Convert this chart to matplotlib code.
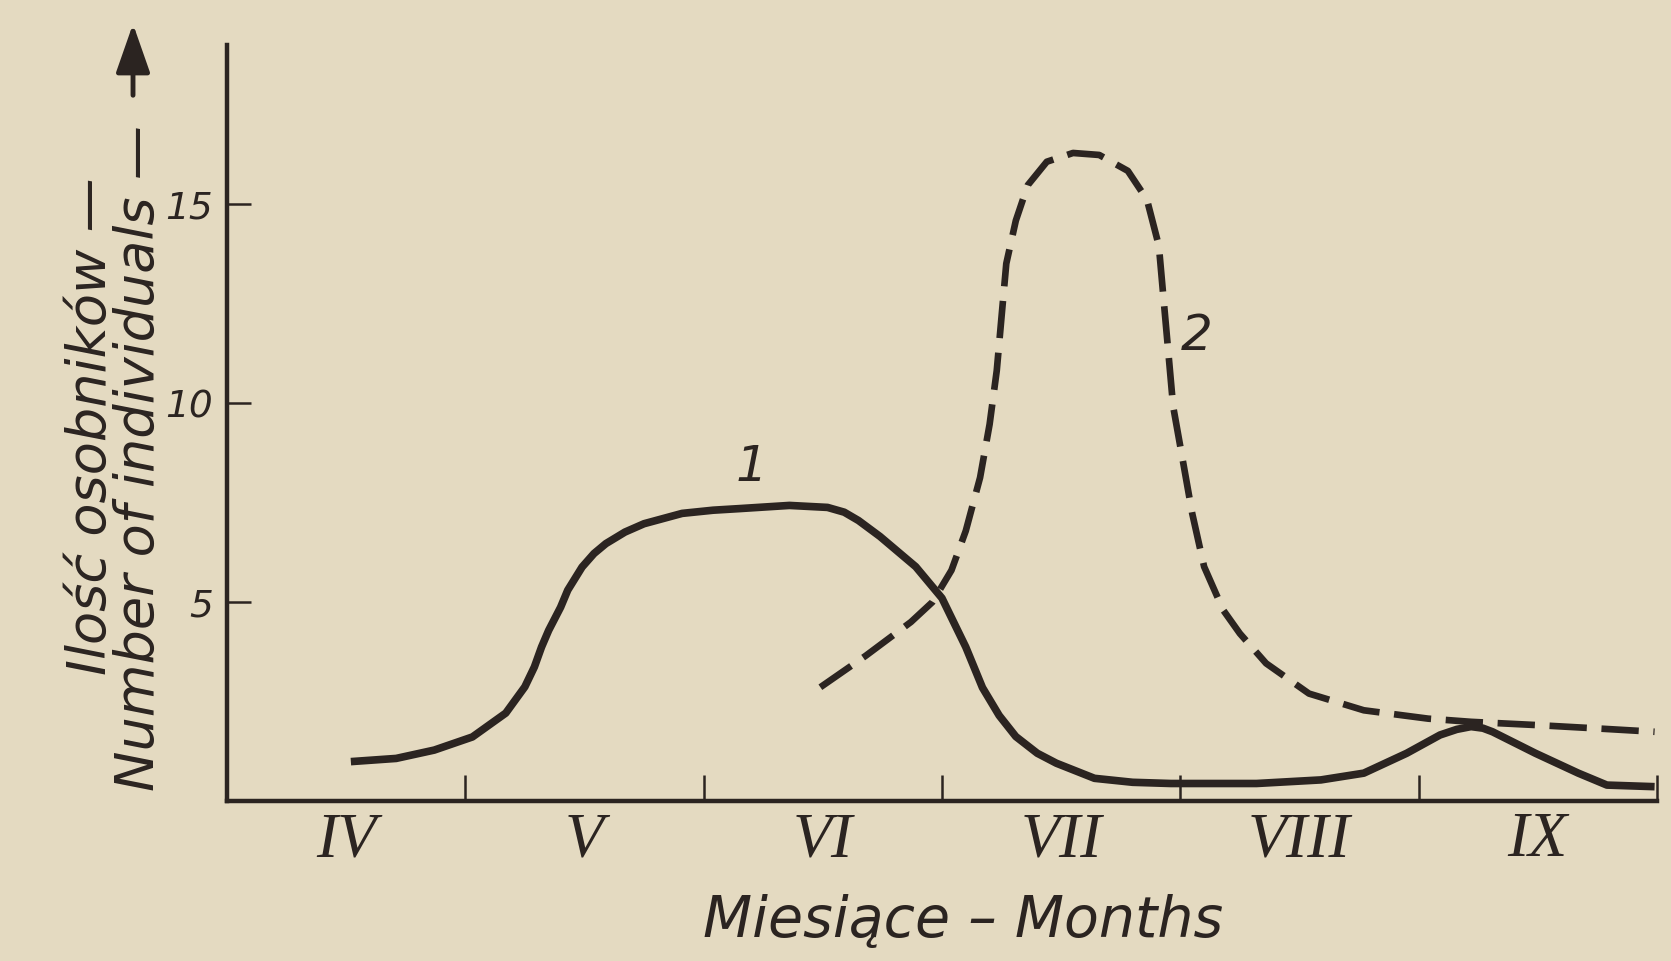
import matplotlib
matplotlib.use('Agg')
import matplotlib.pyplot as plt

# months, one per interval on the x axis
months = ['IV', 'V', 'VI', 'VII', 'VIII', 'IX']
month_pos = [0.5, 1.5, 2.5, 3.5, 4.5, 5.5]
month_edges = [0, 1, 2, 3, 4, 5, 6]
yticks = [5, 10, 15]

# curve 1 (solid)
x1 = [0.52, 0.71, 0.87, 1.03, 1.17, 1.21, 1.25, 1.29, 1.32, 1.35, 1.40, 1.43,
      1.49, 1.54, 1.59, 1.67, 1.75, 1.83, 1.91, 2.04, 2.15, 2.36, 2.52, 2.59,
      2.65, 2.74, 2.89, 3.00, 3.10, 3.17, 3.24, 3.31, 3.40, 3.48, 3.64, 3.80,
      3.96, 4.32, 4.59, 4.77, 4.95, 5.09, 5.16, 5.22, 5.27, 5.31, 5.49, 5.67,
      5.79, 5.99]
y1 = [0.99, 1.07, 1.28, 1.61, 2.21, 2.54, 2.87, 3.37, 3.87, 4.29, 4.87, 5.30,
      5.88, 6.22, 6.47, 6.76, 6.97, 7.10, 7.23, 7.31, 7.35, 7.43, 7.38, 7.26,
      7.05, 6.65, 5.89, 5.10, 3.87, 2.85, 2.15, 1.62, 1.20, 0.95, 0.57, 0.47,
      0.44, 0.44, 0.53, 0.70, 1.20, 1.66, 1.80, 1.87, 1.83, 1.74, 1.20, 0.70,
      0.40, 0.36]

# curve 2 (dashed)
x2 = [2.49, 2.68, 2.87, 2.96, 3.04, 3.10, 3.16, 3.20, 3.23, 3.25, 3.27, 3.31,
      3.36, 3.44, 3.55, 3.66, 3.78, 3.86, 3.91, 3.93, 3.95, 3.97, 4.01, 4.05,
      4.10, 4.18, 4.25, 4.36, 4.54, 4.77, 5.04, 5.22, 5.49, 5.76, 5.99]
y2 = [2.86, 3.65, 4.50, 5.00, 5.80, 6.79, 8.13, 9.47, 10.82, 12.17, 13.51, 14.59,
      15.48, 16.07, 16.29, 16.24, 15.84, 15.12, 13.96, 12.61, 11.27, 9.92, 8.58, 7.23,
      5.89, 4.80, 4.21, 3.46, 2.70, 2.28, 2.07, 1.99, 1.91, 1.82, 1.74]

INK = '#2b2421'
PAPER = '#e4dac1'


def main():
    fig = plt.figure(figsize=(16.71, 9.61), dpi=100, facecolor=PAPER)
    ax = fig.add_axes([0.1358, 0.1665, 0.8558, 0.7865])
    ax.set_facecolor(PAPER)

    ax.plot(x1, y1, color=INK, lw=5.5, solid_capstyle='butt', solid_joinstyle='round')
    ax.plot(x2, y2, color=INK, lw=4.8, linestyle=(0, (5.6, 2.2)), dash_capstyle='butt')

    ax.text(2.2, 8.4, '1', fontsize=36, style='italic', color=INK, ha='center', va='center')
    ax.text(4.07, 11.7, '2', fontsize=36, style='italic', color=INK, ha='center', va='center')

    ax.set_xlim(0, 6)
    ax.set_ylim(0, 19)

    for side in ['top', 'right']:
        ax.spines[side].set_visible(False)
    for side in ['left', 'bottom']:
        ax.spines[side].set_linewidth(3.2)
        ax.spines[side].set_color(INK)

    # major x ticks mark month boundaries, labels sit in the middle
    ax.set_xticks(month_edges)
    ax.set_xticklabels([])
    ax.set_xticks(month_pos, minor=True)
    ax.set_xticklabels(months, minor=True, family='Liberation Serif',
                       style='italic', fontsize=46, color=INK)
    ax.tick_params(axis='x', which='major', direction='in', length=19, width=1.8, color=INK)
    ax.tick_params(axis='x', which='minor', length=0, pad=8)

    ax.set_yticks(yticks)
    ax.set_yticklabels([str(v) for v in yticks], style='italic', fontsize=27, color=INK)
    ax.tick_params(axis='y', direction='in', length=17, width=1.8, color=INK, pad=10)

    ax.set_xlabel('Miesiące – Months', fontsize=41, style='italic', color=INK)
    ax.xaxis.label.set_va('center')
    ax.xaxis.set_label_coords(0.515, -0.160)

    ax.text(-0.0951, 0.496, 'Ilość osobników —', transform=ax.transAxes, rotation=90,
            fontsize=39, style='italic', color=INK, ha='center', va='center')
    ax.text(-0.0615, 0.4537, 'Number of individuals —', transform=ax.transAxes, rotation=90,
            fontsize=39, style='italic', color=INK, ha='center', va='center')

    ax.annotate('', xy=(0.0796, 0.978), xytext=(0.0796, 0.898),
                xycoords='figure fraction', textcoords='figure fraction',
                arrowprops=dict(arrowstyle='-|>,head_length=1.0,head_width=0.35',
                                mutation_scale=30, lw=3.5, color=INK))

    fig.savefig('out.png', dpi=100, facecolor=PAPER)


if __name__ == '__main__':
    main()
